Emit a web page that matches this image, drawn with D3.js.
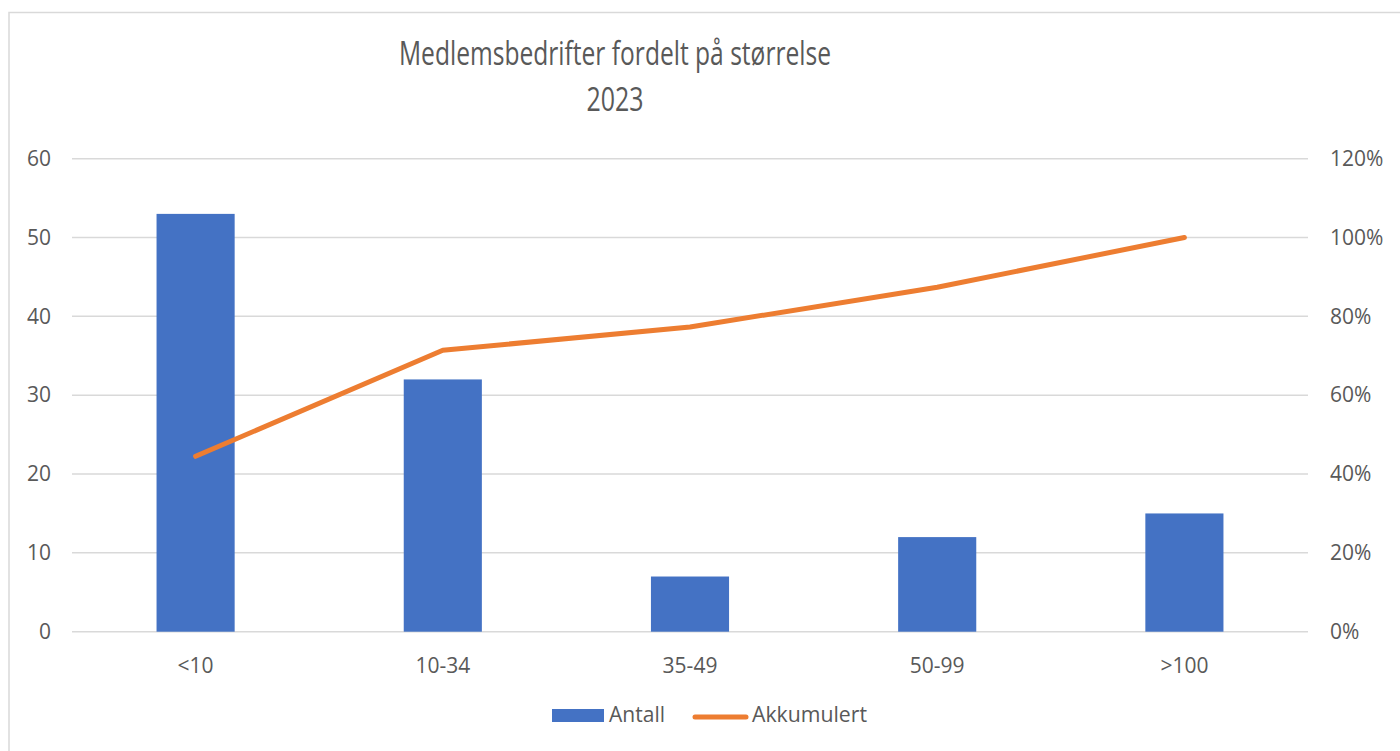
<!DOCTYPE html>
<html>
<head>
<meta charset="utf-8">
<script src="https://cdn.jsdelivr.net/npm/d3@7"></script>
<style>
  body { margin: 0; background: #fff; }
  text { font-family: "Open Sans", Lato, "Noto Sans", sans-serif; fill: #595959; }
</style>
</head>
<body>
<div id="chart"></div>
<script>
var categories = ["<10", "10-34", "35-49", "50-99", ">100"]
var antall = [53, 32, 7, 12, 15]
var akkumulert = [44.5, 71.4, 77.3, 87.4, 100]
var leftTicks = [0, 10, 20, 30, 40, 50, 60]
var rightTicks = [0, 20, 40, 60, 80, 100, 120]
var titleLines = ["Medlemsbedrifter fordelt på størrelse", "2023"]

var W = 1400, H = 751
var plot = {left: 72, right: 1308, top: 158.7, bottom: 631.7}
var tickFont = "21px"

var svg = d3.select("#chart").append("svg")
    .attr("width", W)
    .attr("height", H)

// chart frame
svg.append("rect")
    .attr("x", 9).attr("y", 12.5)
    .attr("width", W + 10).attr("height", H + 10)
    .style("fill", "none")
    .style("stroke", "#d9d9d9")
    .style("stroke-width", 1.5)

var x = d3.scaleBand()
    .domain(categories)
    .range([plot.left, plot.right])
    .paddingInner(0.684)
    .paddingOuter(0.342)

var y = d3.scaleLinear().domain([0, 60]).range([plot.bottom, plot.top])
var y2 = d3.scaleLinear().domain([0, 120]).range([plot.bottom, plot.top])

// gridlines
svg.selectAll(".grid")
    .data(leftTicks)
    .enter()
    .append("line")
    .attr("class", "grid")
    .attr("x1", plot.left).attr("x2", plot.right)
    .attr("y1", function(d) { return y(d) })
    .attr("y2", function(d) { return y(d) })
    .style("stroke", "#d9d9d9")
    .style("stroke-width", 1.5)

// left axis
var leftAxis = svg.append("g")
    .attr("transform", "translate(" + plot.left + ",0)")
    .call(d3.axisLeft(y).tickValues(leftTicks).tickSize(0).tickPadding(21))
leftAxis.select(".domain").remove()
leftAxis.selectAll("text").style("font-size", tickFont).style("fill", "#595959")
    .style("font-family", "'Open Sans', Lato, sans-serif")

// right axis
var rightAxis = svg.append("g")
    .attr("transform", "translate(" + plot.right + ",0)")
    .call(d3.axisRight(y2).tickValues(rightTicks).tickSize(0).tickPadding(22)
        .tickFormat(function(d) { return d + "%" }))
rightAxis.select(".domain").remove()
rightAxis.selectAll("text").style("font-size", tickFont).style("fill", "#595959")
    .style("font-family", "'Open Sans', Lato, sans-serif")

// bottom axis
var bottomAxis = svg.append("g")
    .attr("transform", "translate(0," + plot.bottom + ")")
    .call(d3.axisBottom(x).tickSize(0).tickPadding(26))
bottomAxis.select(".domain").remove()
bottomAxis.selectAll("text").style("font-size", tickFont).style("fill", "#595959")
    .style("font-family", "'Open Sans', Lato, sans-serif")

// bars
svg.selectAll(".bar")
    .data(antall)
    .enter()
    .append("rect")
    .attr("class", "bar")
    .attr("x", function(d, i) { return x(categories[i]) })
    .attr("y", function(d) { return y(d) })
    .attr("width", x.bandwidth())
    .attr("height", function(d) { return y(0) - y(d) })
    .style("fill", "#4472c4")

// cumulative line
var line = d3.line()
    .x(function(d, i) { return x(categories[i]) + x.bandwidth() / 2 })
    .y(function(d) { return y2(d) })

svg.append("path")
    .datum(akkumulert)
    .attr("d", line)
    .style("fill", "none")
    .style("stroke", "#ed7d31")
    .style("stroke-width", 5)
    .style("stroke-linecap", "round")
    .style("stroke-linejoin", "round")

// title
svg.selectAll(".title")
    .data(titleLines)
    .enter()
    .append("text")
    .attr("class", "title")
    .attr("x", 615)
    .attr("y", function(d, i) { return 65 + i * 46 })
    .attr("text-anchor", "middle")
    .style("font-size", "32px")
    .attr("textLength", function(d, i) { return i == 0 ? 432 : 57 })
    .attr("lengthAdjust", "spacingAndGlyphs")
    .text(function(d) { return d })

// legend
var legend = svg.append("g")
legend.append("rect")
    .attr("x", 552).attr("y", 709)
    .attr("width", 52).attr("height", 13)
    .style("fill", "#4472c4")
legend.append("text")
    .attr("x", 609).attr("y", 722)
    .style("font-size", tickFont)
    .attr("textLength", 56)
    .attr("lengthAdjust", "spacingAndGlyphs")
    .text("Antall")
legend.append("line")
    .attr("x1", 695).attr("x2", 746)
    .attr("y1", 717).attr("y2", 717)
    .style("stroke", "#ed7d31")
    .style("stroke-width", 5)
    .style("stroke-linecap", "round")
legend.append("text")
    .attr("x", 752).attr("y", 722)
    .style("font-size", tickFont)
    .attr("textLength", 115)
    .attr("lengthAdjust", "spacingAndGlyphs")
    .text("Akkumulert")
</script>
</body>
</html>
